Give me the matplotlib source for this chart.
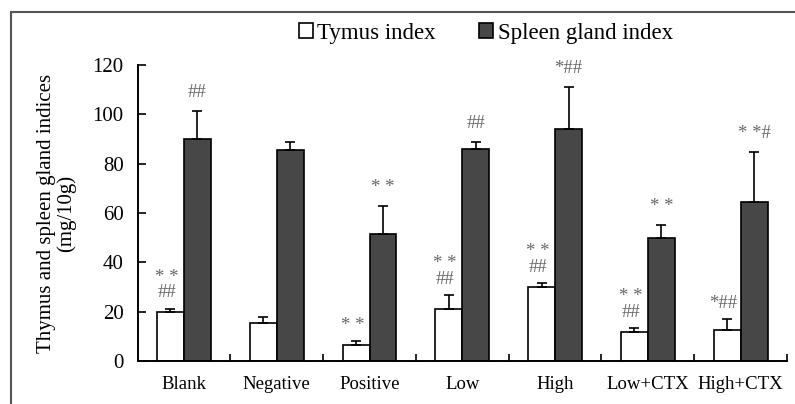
import numpy as np
import matplotlib.pyplot as plt
from matplotlib.patches import Patch, Rectangle

plt.rcParams['font.family'] = ['Liberation Serif', 'DejaVu Serif']

# data
groups = ['Blank', 'Negative', 'Positive', 'Low', 'High', 'Low+CTX', 'High+CTX']
thymus = [19.8, 15.5, 6.4, 21.0, 29.9, 12.0, 12.8]
thymus_err = [1.4, 2.2, 1.8, 5.8, 1.6, 1.4, 4.3]
spleen = [89.9, 85.7, 51.5, 86.1, 94.0, 49.9, 64.7]
spleen_err = [11.4, 3.2, 11.3, 2.8, 17.1, 5.4, 20.0]
thymus_marks = ['* *\n##', '', '* *', '* *\n##', '* *\n##', '* *\n##', '*##']
spleen_marks = ['##', '', '* *', '##', '*##', '* *', '* *#']

fig = plt.figure(figsize=(7.95, 4.04), dpi=100)
ax = fig.add_axes([0.173, 0.106, 0.817, 0.733])

x = np.arange(len(groups))
w = 0.29
dark = '#474747'

ax.bar(x - w / 2, thymus, w, color='white', edgecolor='black', linewidth=1.2,
       yerr=[np.zeros(len(x)), thymus_err], capsize=3.5,
       error_kw=dict(elinewidth=1.2, capthick=1.2, ecolor='black'))
ax.bar(x + w / 2, spleen, w, color=dark, edgecolor='black', linewidth=1.2,
       yerr=[np.zeros(len(x)), spleen_err], capsize=3.5,
       error_kw=dict(elinewidth=1.2, capthick=1.2, ecolor='black'))

# significance marks
for i in range(len(groups)):
    if thymus_marks[i]:
        ax.text(x[i] - w / 2 - 0.04, thymus[i] + thymus_err[i] + 3, thymus_marks[i],
                ha='center', va='bottom', fontsize=13.5, color='#666666',
                linespacing=0.9)
    if spleen_marks[i]:
        ax.text(x[i] + w / 2, spleen[i] + spleen_err[i] + 4, spleen_marks[i],
                ha='center', va='bottom', fontsize=13.5, color='#666666')

ax.set_xlim(-0.5, len(groups) - 0.5)
ax.set_ylim(0, 120)
ax.set_yticks(np.arange(0, 121, 20))
ax.set_xticks(x)
ax.set_xticklabels(groups, fontsize=13.5)
ax.set_xticks(np.arange(0.5, len(groups) + 0.5, 1), minor=True)
ax.tick_params(axis='x', which='major', length=0, pad=11)
ax.tick_params(axis='x', which='minor', direction='in', length=5, width=1.2)
ax.tick_params(axis='y', direction='in', length=6, width=1.2, labelsize=15, pad=10)
for s in ['top', 'right']:
    ax.spines[s].set_visible(False)
for s in ['left', 'bottom']:
    ax.spines[s].set_linewidth(1.4)

ax.set_ylabel('Thymus and spleen gland indices\n(mg/10g)', fontsize=15,
              linespacing=1.0, labelpad=12)

handles = [Patch(facecolor='white', edgecolor='black', linewidth=1.2),
           Patch(facecolor=dark, edgecolor='black', linewidth=1.2)]
fig.legend(handles, ['Tymus index', 'Spleen gland index'], loc='center',
           bbox_to_anchor=(0.611, 0.918), ncol=2, frameon=False, fontsize=16.5,
           handlelength=0.6, handleheight=0.6, handletextpad=0.2,
           columnspacing=1.9)

# outer frame
fig.patches.append(Rectangle((0.014, -0.05), 1.1, 1.02, transform=fig.transFigure,
                             fill=False, edgecolor='#555555', linewidth=1.5))

fig.savefig('out.png', dpi=100)
